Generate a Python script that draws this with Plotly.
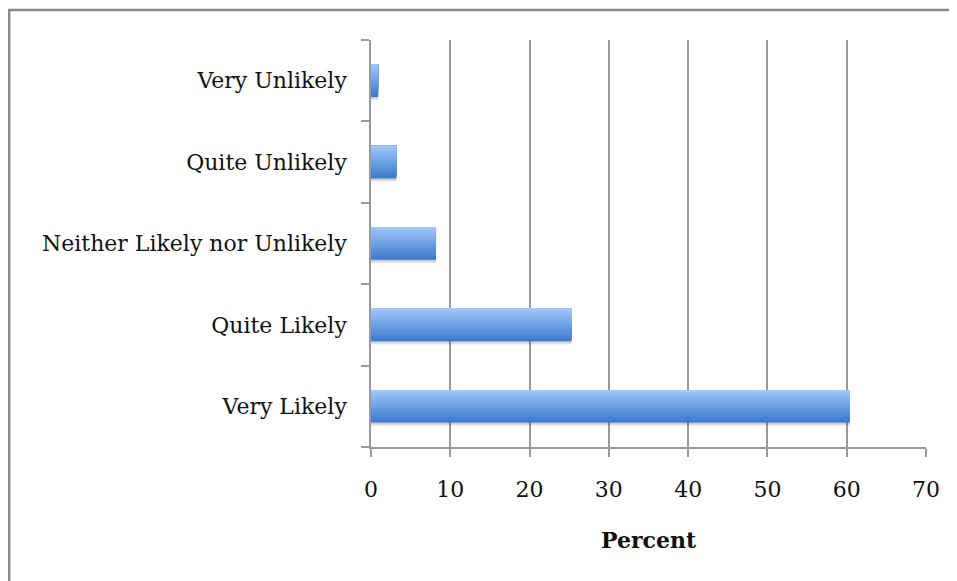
import plotly.graph_objects as go

categories = ["Very Likely", "Quite Likely", "Neither Likely nor Unlikely",
              "Quite Unlikely", "Very Unlikely"]
percent = [60.4, 25.3, 8.2, 3.2, 0.9]
x_ticks = [0, 10, 20, 30, 40, 50, 60, 70]

# gradient look: stack slices across the bar thickness (dark bottom -> light top)
bar_width = 0.4
n_slices = 24
dark = (60, 122, 204)
light = (160, 198, 250)

data = []
# soft shadow under each bar
for k, alpha in enumerate([0.05, 0.07, 0.09]):
    data.append(go.Bar(
        x=percent, y=categories, orientation="h",
        width=bar_width, offset=-bar_width / 2 - 0.02 - 0.012 * (2 - k),
        marker=dict(color="rgba(0,0,0,%s)" % alpha, line_width=0),
        hoverinfo="skip", showlegend=False,
    ))
step = bar_width / n_slices
for i in range(n_slices):
    t = i / (n_slices - 1)
    c = tuple(round(dark[j] + (light[j] - dark[j]) * t) for j in range(3))
    data.append(go.Bar(
        x=percent, y=categories, orientation="h",
        width=bar_width - i * step,
        offset=-bar_width / 2 + i * step,
        marker=dict(color="rgb(%d,%d,%d)" % c, line_width=0),
        showlegend=False,
        hovertemplate="%{y}: %{x}%<extra></extra>",
    ))

font = dict(family="DejaVu Serif", size=22, color="#111111")

layout = go.Layout(
    width=949, height=573,
    margin=dict(l=363, r=31, t=32, b=134),
    paper_bgcolor="white", plot_bgcolor="white",
    barmode="overlay",
    font=font,
    xaxis=dict(
        range=[0, 70], tickvals=x_ticks, showgrid=True,
        gridcolor="#9a9a9a", gridwidth=1.5,
        showline=True, linecolor="#9a9a9a", linewidth=1.5,
        ticks="outside", ticklen=8, tickcolor="#9a9a9a", tickwidth=1.5,
        ticklabelstandoff=14,
        title=dict(text="<b>Percent</b>", standoff=31, font=font),
        zeroline=False, fixedrange=True,
    ),
    yaxis=dict(
        categoryorder="array", categoryarray=categories,
        showline=True, linecolor="#9a9a9a", linewidth=1.5,
        ticks="outside", ticklen=8, tickcolor="#9a9a9a", tickwidth=1.5,
        tickson="boundaries", ticklabelstandoff=18,
        showgrid=False, fixedrange=True,
    ),
    shapes=[
        dict(type="line", xref="paper", yref="paper",
             x0=-0.66, x1=1.06, y0=1.0737, y1=1.0737,
             line=dict(color="#8a8a8a", width=2.5)),
        dict(type="line", xref="paper", yref="paper",
             x0=-0.652, x1=-0.652, y0=1.0737, y1=-0.35,
             line=dict(color="#8a8a8a", width=2.5)),
    ],
)

fig = go.Figure(data=data, layout=layout)
fig.write_html("out.html")
